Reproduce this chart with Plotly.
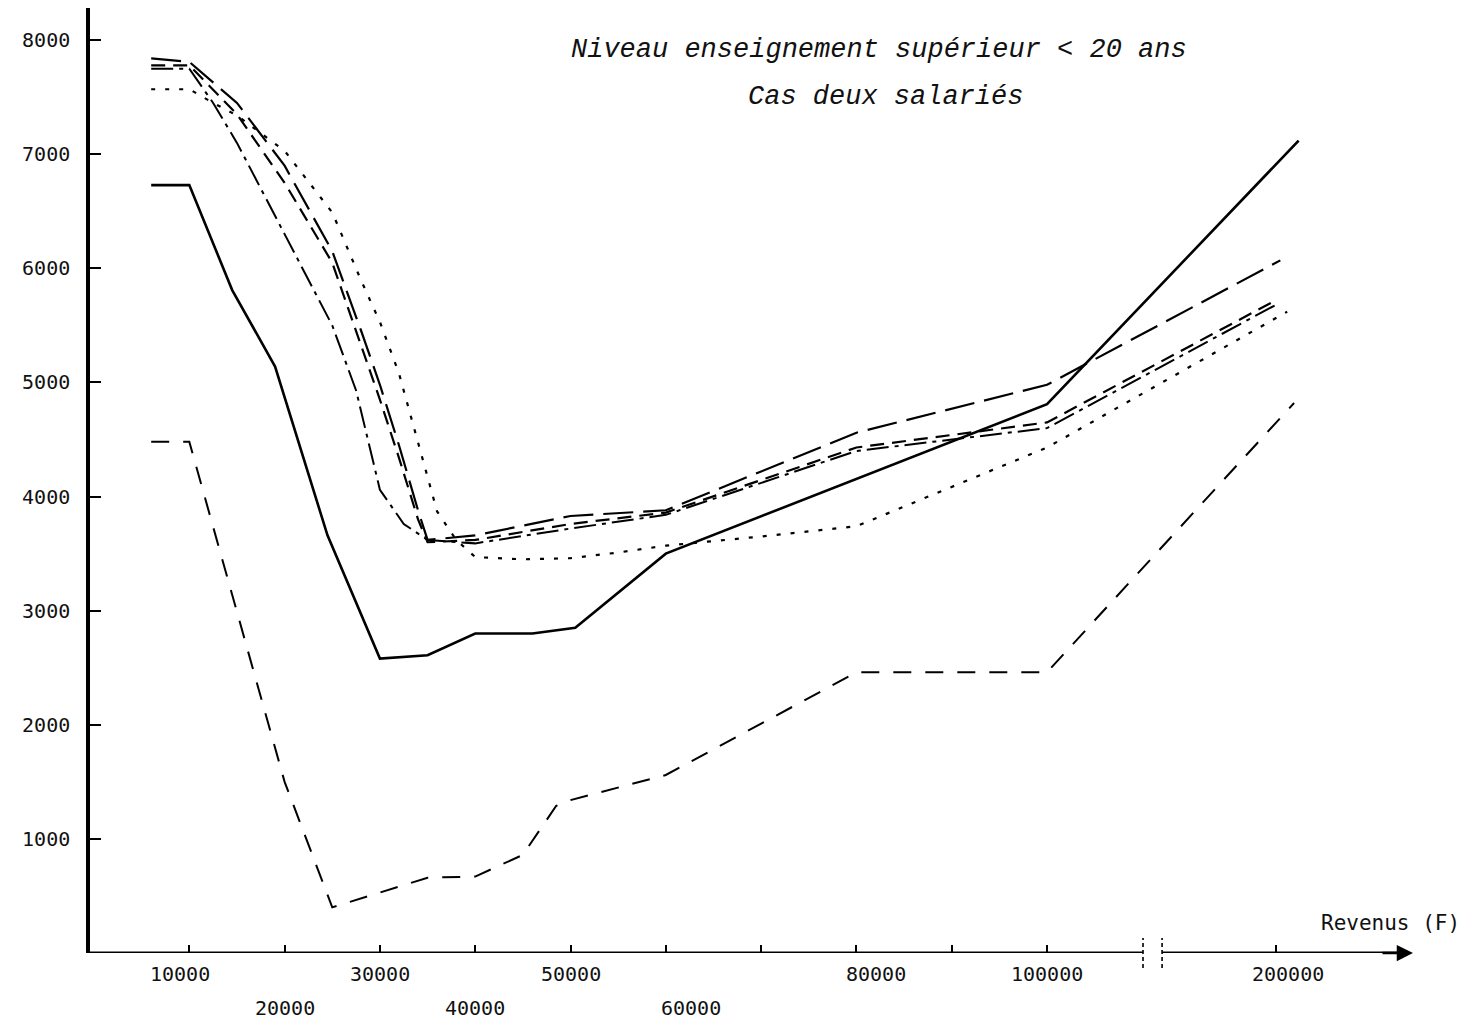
import plotly.graph_objects as go

# ---------------- data ----------------
# Revenus (F) and values for each curve
rev_solid = [6000, 10000, 14500, 19000, 24500, 30000, 35000, 40000, 46000, 50500, 60000, 100000, 210000]
val_solid = [6730, 6730, 5810, 5140, 3660, 2580, 2610, 2800, 2800, 2850, 3500, 4810, 7120]

rev_longdash = [6000, 10000, 15000, 20000, 25000, 28000, 30000, 32000, 34000, 35000, 40000, 50000, 60000, 80000, 100000, 202000]
val_longdash = [7840, 7810, 7450, 6900, 6150, 5460, 4980, 4450, 3880, 3620, 3660, 3830, 3880, 4560, 4980, 6070]

rev_dash = [6000, 10000, 15000, 20000, 25000, 28000, 30000, 32000, 34000, 35000, 40000, 50000, 60000, 80000, 100000, 200000]
val_dash = [7780, 7780, 7350, 6750, 6050, 5330, 4850, 4340, 3800, 3600, 3620, 3760, 3860, 4430, 4650, 5720]

rev_dashdot = [6000, 10000, 12500, 15000, 20000, 25000, 27500, 30000, 32500, 35000, 40000, 50000, 60000, 80000, 100000, 200000]
val_dashdot = [7750, 7750, 7450, 7100, 6300, 5500, 4930, 4060, 3760, 3620, 3590, 3720, 3840, 4400, 4600, 5680]

rev_dot = [6000, 10000, 12500, 15000, 20000, 25000, 28000, 30000, 32000, 34000, 36000, 38000, 40000, 45000, 50000, 55000, 60000, 70000, 80000, 100000, 205000]
val_dot = [7570, 7570, 7450, 7340, 7030, 6490, 5900, 5530, 5080, 4470, 3870, 3620, 3470, 3450, 3460, 3510, 3570, 3650, 3740, 4430, 5620]

rev_low = [6000, 10000, 20000, 25000, 30000, 35000, 40000, 45000, 48500, 50000, 60000, 80000, 100000, 208000]
val_low = [4480, 4480, 1500, 400, 530, 660, 670, 860, 1290, 1340, 1560, 2460, 2460, 4820]

x_ticks = [10000, 20000, 30000, 40000, 50000, 60000, 70000, 80000, 90000, 100000, 200000]
x_labels_row1 = [10000, 30000, 50000, 80000, 100000, 200000]
x_labels_row2 = [20000, 40000, 60000]
y_ticks = [1000, 2000, 3000, 4000, 5000, 6000, 7000, 8000]

title_1 = "Niveau enseignement supérieur < 20 ans"
title_2 = "Cas deux salariés"
x_title = "Revenus (F)"

# ---------------- broken axis scale ----------------
BREAK_AT = 100000
COMPRESS = 0.24          # scale factor applied beyond the axis break


def pos(r):
    return r if r <= BREAK_AT else BREAK_AT + (r - BREAK_AT) * COMPRESS


def posl(lst):
    return [pos(r) for r in lst]


fig = go.Figure()

series = [
    (rev_solid, val_solid, dict(color="black", width=2.6, dash="solid")),
    (rev_longdash, val_longdash, dict(color="black", width=2.2, dash="30px,10px")),
    (rev_dash, val_dash, dict(color="black", width=2.2, dash="14px,8px")),
    (rev_dashdot, val_dashdot, dict(color="black", width=2.0, dash="22px,6px,4px,6px")),
    (rev_dot, val_dot, dict(color="black", width=2.2, dash="4px,10px")),
    (rev_low, val_low, dict(color="black", width=2.0, dash="18px,14px")),
]
for rx, vy, ln in series:
    fig.add_trace(go.Scatter(x=posl(rx), y=vy, mode="lines", line=ln,
                             showlegend=False, hoverinfo="skip"))

# page body has an 8px margin; the figure is sized to fit inside the window
PAGE_OFF = 8
PLOT_L, PLOT_R = 90, 1413          # page pixels of the plot area
PLOT_T, PLOT_B = 8, 953
PW = PLOT_R - PLOT_L
PH = PLOT_B - PLOT_T

X_MIN, X_MAX = -420, 138400
Y_MAX = 8282


def px(xp):
    return (xp - PLOT_L) / PW


def py(yp):
    return (PLOT_B - yp) / PH


shapes = []
break_left = pos(BREAK_AT) + 10070
break_right = pos(BREAK_AT) + 12070
# x axis line, interrupted at the break
shapes.append(dict(type="line", xref="x", yref="y", x0=X_MIN, x1=break_left, y0=0, y1=0,
                   line=dict(color="black", width=3)))
shapes.append(dict(type="line", xref="x", yref="y", x0=break_right, x1=X_MAX - 1500, y0=0, y1=0,
                   line=dict(color="black", width=3)))
for bx in (break_left, break_right):
    shapes.append(dict(type="line", xref="x", yref="paper", x0=bx, x1=bx, y0=-0.016, y1=0.016,
                       line=dict(color="black", width=1.6, dash="4px,3px")))

title_font = dict(family="Liberation Mono", size=27, color="#111")
annotations = [
    dict(x=X_MAX, y=0, xref="x", yref="y", ax=-32, ay=0, showarrow=True, arrowhead=2,
         arrowsize=1.3, arrowwidth=2.5, arrowcolor="black", text=""),
    dict(x=px(879), y=py(50), xref="paper", yref="paper", xanchor="center", yanchor="middle",
         text="<i>" + title_1 + "</i>", showarrow=False, font=title_font),
    dict(x=px(885), y=py(97), xref="paper", yref="paper", xanchor="center", yanchor="middle",
         text="<i>" + title_2 + "</i>", showarrow=False, font=title_font),
    dict(x=px(1390), y=py(923), xref="paper", yref="paper", xanchor="center", yanchor="middle",
         text=x_title, showarrow=False,
         font=dict(family="DejaVu Sans Mono", size=21, color="#111")),
]
label_font = dict(family="DejaVu Sans Mono", size=20, color="#111")
row1_shift = {10000: -9, 80000: 20, 200000: 12}
for v in x_labels_row1:
    annotations.append(dict(x=pos(v), y=0, xref="x", yref="paper", yanchor="top",
                            xanchor="center", yshift=-7, xshift=row1_shift.get(v, 0),
                            text=str(v), showarrow=False, font=label_font))
row2_shift = {60000: 25}
for v in x_labels_row2:
    annotations.append(dict(x=pos(v), y=0, xref="x", yref="paper", yanchor="top",
                            xanchor="center", yshift=-41, xshift=row2_shift.get(v, 0),
                            text=str(v), showarrow=False, font=label_font))

W, H = 1481 - PAGE_OFF, 1021 - PAGE_OFF
fig.update_layout(
    width=W, height=H,
    margin=dict(l=PLOT_L - PAGE_OFF, r=W - (PLOT_R - PAGE_OFF), t=0,
                b=H - (PLOT_B - PAGE_OFF)),
    paper_bgcolor="white", plot_bgcolor="white",
    shapes=shapes, annotations=annotations,
    xaxis=dict(range=[X_MIN, X_MAX], showgrid=False, zeroline=False, showline=False,
               tickvals=posl(x_ticks), ticks="inside", ticklen=8, tickwidth=1.5,
               tickcolor="black", showticklabels=False),
    yaxis=dict(range=[0, Y_MAX], showgrid=False, zeroline=False, showline=True,
               linecolor="black", linewidth=3.5, tickvals=y_ticks,
               ticktext=[str(t) for t in y_ticks], ticks="inside", ticklen=11,
               tickwidth=1.5, tickcolor="black", ticklabelstandoff=12,
               tickfont=dict(family="DejaVu Sans Mono", size=20, color="#111")),
)

fig.write_html("out.html")
